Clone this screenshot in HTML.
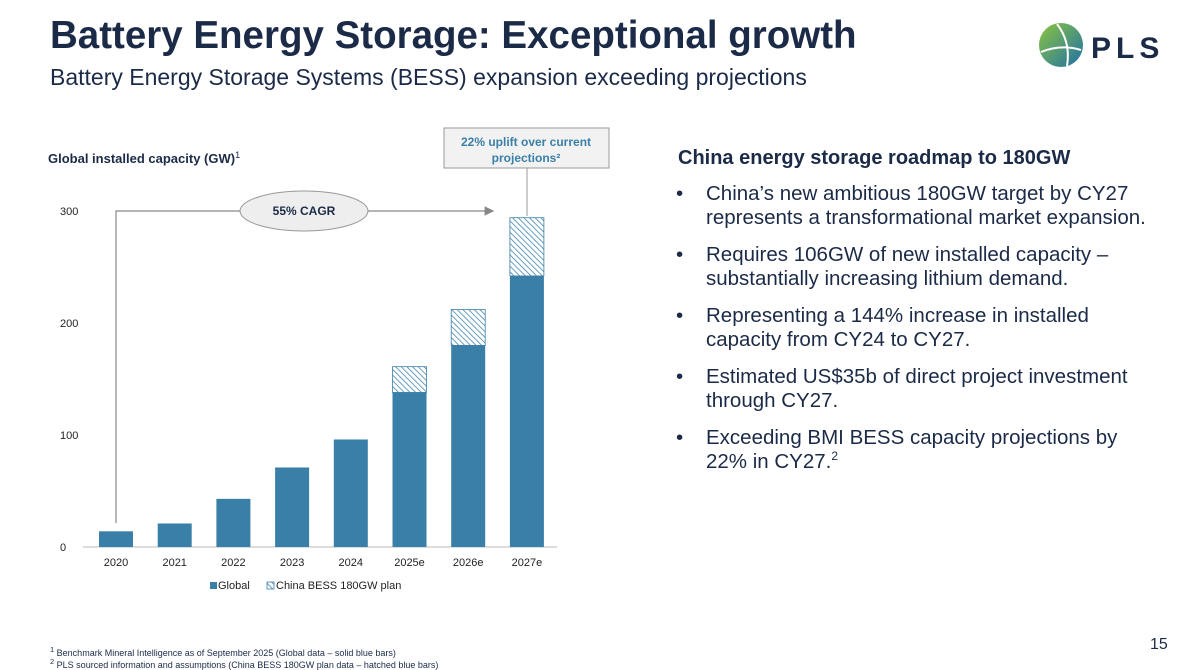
<!DOCTYPE html>
<html><head><meta charset="utf-8"><style>
body{margin:0;width:1200px;height:670px;background:#fff;font-family:"Liberation Sans",Arial,sans-serif;position:relative;overflow:hidden;color:#1a2b45}
.abs{position:absolute}
h1{position:absolute;left:50px;top:14px;margin:0;font-size:38.5px;font-weight:bold;color:#1b2a47}
.sub{left:50px;top:64px;font-size:23px;color:#1b2a47}
.rt{left:678px;top:147px;font-size:20px;font-weight:bold;color:#1b2a47}
ul{position:absolute;left:676px;top:182px;margin:0;padding:0;list-style:none;width:485px}
li{position:relative;padding-left:30px;font-size:20.5px;line-height:24px;margin-bottom:13px;color:#1b2a47}
li:before{content:"•";position:absolute;left:0}
.foot{left:50px;font-size:9px;color:#1b2a47}
</style></head><body>
<h1>Battery Energy Storage: Exceptional growth</h1>
<div class="abs sub">Battery Energy Storage Systems (BESS) expansion exceeding projections</div>
<svg class="abs" style="left:1035px;top:20px" width="160" height="50">
<defs><linearGradient id="lg" x1="0" y1="0" x2="1" y2="1"><stop offset="0" stop-color="#8cc63f"/><stop offset="1" stop-color="#1f6fa8"/></linearGradient></defs>
<circle cx="26" cy="25" r="22" fill="url(#lg)"/>
<path d="M6 32 Q26 24 46 30" stroke="#fff" stroke-width="2" fill="none"/><path d="M22 4 Q36 22 32 46" stroke="#fff" stroke-width="2" fill="none"/>
<text x="56" y="38" font-size="30" font-weight="bold" fill="#1b2a47" letter-spacing="5">PLS</text></svg>
<div class="abs rt">China energy storage roadmap to 180GW</div>
<ul>
<li>China’s new ambitious 180GW target by CY27 represents a transformational market expansion.</li>
<li>Requires 106GW of new installed capacity – substantially increasing lithium demand.</li>
<li>Representing a 144% increase in installed capacity from CY24 to CY27.</li>
<li>Estimated US$35b of direct project investment through CY27.</li>
<li>Exceeding BMI BESS capacity projections by 22% in CY27.<sup style="font-size:12px;line-height:0">2</sup></li>
</ul>
<div class="abs foot" style="top:645px"><sup>1</sup> Benchmark Mineral Intelligence as of September 2025 (Global data – solid blue bars)</div>
<div class="abs foot" style="top:657px"><sup>2</sup> PLS sourced information and assumptions (China BESS 180GW plan data – hatched blue bars)</div>
<div class="abs" style="left:1150px;top:636px;font-size:16px;color:#1b2a47">15</div>
<svg id="chart" class="abs" style="left:0;top:0" width="660" height="620">
<defs><pattern id="hatch" width="4" height="4" patternUnits="userSpaceOnUse" patternTransform="rotate(-45)"><rect width="4" height="4" fill="#fff"/><line x1="0" y1="0" x2="0" y2="4" stroke="#3a7fa8" stroke-width="1.5"/></pattern>
<marker id="arr" markerWidth="8" markerHeight="8" refX="7" refY="4" orient="auto"><path d="M0,0 L8,4 L0,8z" fill="#888"/></marker></defs>
<text x="48" y="163" font-size="13" font-weight="bold" fill="#1b2a47">Global installed capacity (GW)<tspan font-size="9" dy="-5" font-weight="normal">1</tspan></text>
</svg>
<script>
const categories=["2020","2021","2022","2023","2024","2025e","2026e","2027e"];
const globalVals=[14,21,43,71,96,138,180,242];
const chinaExtra=[0,0,0,0,0,23,32,52];
const yTicks=[0,100,200,300];
const svg=document.getElementById('chart');const NS="http://www.w3.org/2000/svg";
function y(v){return 547-v*1.12;}
function x(i){return 116+i*58.7;}
function mk(t,a,txt){const e=document.createElementNS(NS,t);for(const k in a)e.setAttribute(k,a[k]);if(txt!==undefined)e.textContent=txt;svg.appendChild(e);return e;}
yTicks.forEach(t=>{const e=mk('text',{x:60,y:y(t)+4,'font-size':11,fill:'#222'},t);

});
const ax=mk('line',{x1:83,x2:557,y1:547,y2:547,stroke:'#bbb'});


categories.forEach((c,i)=>{
const b=mk('rect',{x:x(i)-17,y:y(globalVals[i]),width:34,height:globalVals[i]*1.12,fill:'#3a7fa8'});


if(chinaExtra[i]>0){const h=mk('rect',{x:x(i)-17,y:y(globalVals[i]+chinaExtra[i]),width:34,height:chinaExtra[i]*1.12,fill:'url(#hatch)',stroke:'#3a7fa8','stroke-width':0.8});

}
const l=mk('text',{x:x(i),y:566,'font-size':11,fill:'#222','text-anchor':'middle'},c);


});
const cl=mk('path',{d:'M116 523 V211 H240 M368 211 H493',stroke:'#888','stroke-width':1.2,fill:'none','marker-end':'url(#arr)'});


const el=mk('ellipse',{cx:304,cy:211,rx:64,ry:20,fill:'#eee',stroke:'#999'});


mk('text',{x:304,y:215,'font-size':12,'font-weight':'bold','text-anchor':'middle',fill:'#1b2a47'},'55% CAGR');
const bx=mk('rect',{x:444,y:128,width:165,height:40,fill:'#f2f2f2',stroke:'#999'});


mk('text',{x:526,y:146,'font-size':12,'font-weight':'bold','text-anchor':'middle',fill:'#3a7fa8'},'22% uplift over current');
mk('text',{x:526,y:162,'font-size':12,'font-weight':'bold','text-anchor':'middle',fill:'#3a7fa8'},'projections²');
mk('line',{x1:527,x2:527,y1:168,y2:216,stroke:'#999'});
const lg1=mk('rect',{x:210,y:582,width:7,height:7,fill:'#3a7fa8'});


mk('text',{x:218,y:589,'font-size':11,fill:'#222'},'Global');
const lg2=mk('rect',{x:267,y:582,width:7,height:7,fill:'url(#hatch)',stroke:'#3a7fa8','stroke-width':0.8});


mk('text',{x:276,y:589,'font-size':11,fill:'#222'},'China BESS 180GW plan');
</script>
</body></html>
